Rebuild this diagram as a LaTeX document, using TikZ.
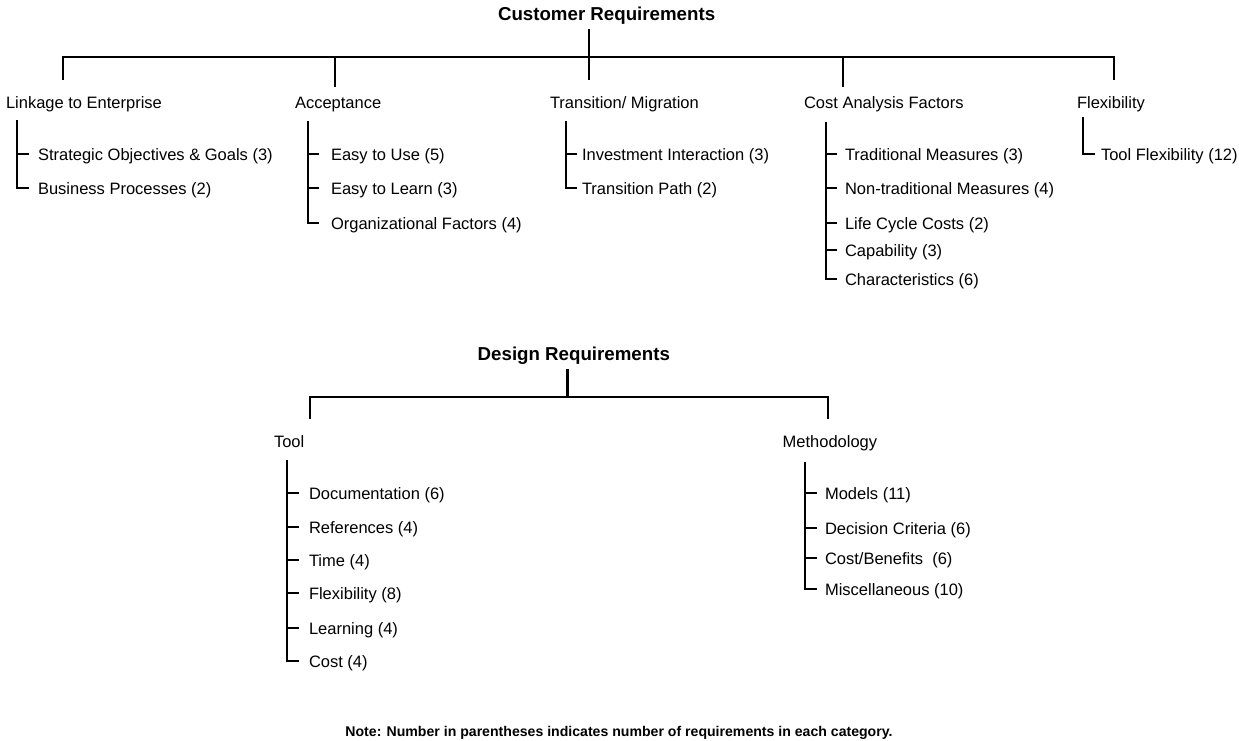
\documentclass[tikz,border=0pt]{standalone}
\usepackage{fontspec}
\setmainfont{Liberation Sans}
\begin{document}
\begin{tikzpicture}[x=1pt,y=-1pt,
  link/.style={line width=2pt},
  title/.style={font=\fontsize{18.7}{20}\selectfont\bfseries, inner sep=0pt, outer sep=0pt, anchor=base west},
  head/.style={font=\fontsize{16.5}{18}\selectfont, inner sep=0pt, outer sep=0pt, anchor=base west},
  item/.style={font=\fontsize{16.5}{18}\selectfont, inner ysep=0pt, inner xsep=#1, outer sep=0pt,
               text height=14pt, text depth=2pt, anchor=west},
  note/.style={font=\fontsize{14.1}{16}\selectfont\bfseries, inner sep=0pt, anchor=base}]
\useasboundingbox (0,0) rectangle (1239,740);

% ---------------- Customer requirements ----------------
\node[title] (cust) at (498,20.7) {Customer Requirements};
\coordinate (cust-stem) at (589,29);
\coordinate (bar) at (0,57);

\node[head] (lk) at (6,108.3)    {Linkage to Enterprise};
\node[head] (ac) at (295,108.3)  {Acceptance};
\node[head] (tm) at (550,108.3)  {Transition/ Migration};
\node[head] (ca) at (804,108.3)  {Cost Analysis Factors};
\node[head] (fx) at (1077,108.3) {Flexibility};

\coordinate (lk-drop) at (63,80);
\coordinate (ac-drop) at (335,87);
\coordinate (tm-drop) at (589,80);
\coordinate (ca-drop) at (843,87);
\coordinate (fx-drop) at (1114,80);

\draw[link] (lk-drop) |- (bar -| fx-drop) -- (fx-drop);
\draw[link] (ac-drop) -- (ac-drop |- bar);
\draw[link] (ca-drop) -- (ca-drop |- bar);
\draw[link] (cust-stem) -- (tm-drop);

% Linkage to Enterprise
\coordinate (lk-sp) at (17,120);
\node[item=9pt] (lk1) at (29,154) {Strategic Objectives \& Goals (3)};
\node[item=9pt] (lk2) at (29,188) {Business Processes (2)};
\draw[link] (lk-sp) |- (lk2.west);
\draw[link] (lk1.west -| lk-sp) -- (lk1.west);

% Acceptance
\coordinate (ac-sp) at (308,121);
\node[item=12pt] (ac1) at (319,154) {Easy to Use (5)};
\node[item=12pt] (ac2) at (319,188) {Easy to Learn (3)};
\node[item=12pt] (ac3) at (319,223) {Organizational Factors (4)};
\draw[link] (ac-sp) |- (ac3.west);
\foreach \n in {ac1,ac2} \draw[link] (\n.west -| ac-sp) -- (\n.west);

% Transition / Migration
\coordinate (tm-sp) at (566,121);
\node[item=5pt] (tm1) at (577,154) {Investment Interaction (3)};
\node[item=5pt] (tm2) at (577,188) {Transition Path (2)};
\draw[link] (tm-sp) |- (tm2.west);
\draw[link] (tm1.west -| tm-sp) -- (tm1.west);

% Cost Analysis Factors
\coordinate (ca-sp) at (826,122);
\node[item=8pt] (ca1) at (837,154) {Traditional Measures (3)};
\node[item=8pt] (ca2) at (837,188) {Non-traditional Measures (4)};
\node[item=8pt] (ca3) at (837,223) {Life Cycle Costs (2)};
\node[item=8pt] (ca4) at (837,250) {Capability (3)};
\node[item=8pt] (ca5) at (837,279) {Characteristics (6)};
\draw[link] (ca-sp) |- (ca5.west);
\foreach \n in {ca1,ca2,ca3,ca4} \draw[link] (\n.west -| ca-sp) -- (\n.west);

% Flexibility
\coordinate (fx-sp) at (1083,117);
\node[item=6pt] (fx1) at (1095,154) {Tool Flexibility (12)};
\draw[link] (fx-sp) |- (fx1.west);

% ---------------- Design requirements ----------------
\node[title] (des) at (477.7,360) {Design Requirements};
\coordinate (des-stem) at (567.5,369);
\coordinate (dbar) at (0,397);

\node[head] (tl) at (274,447)   {Tool};
\node[head] (md) at (782.7,447) {Methodology};

\coordinate (tl-drop) at (310,419);
\coordinate (md-drop) at (828,419);
\draw[link] (tl-drop) |- (dbar -| md-drop) -- (md-drop);
\draw[line width=3pt] (des-stem) -- (des-stem |- dbar);

% Tool
\coordinate (tl-sp) at (287,460);
\node[item=10pt] (tl1) at (299,493) {Documentation (6)};
\node[item=10pt] (tl2) at (299,527) {References (4)};
\node[item=10pt] (tl3) at (299,560) {Time (4)};
\node[item=10pt] (tl4) at (299,593) {Flexibility (8)};
\node[item=10pt] (tl5) at (299,628) {Learning (4)};
\node[item=10pt] (tl6) at (299,661) {Cost (4)};
\draw[link] (tl-sp) |- (tl6.west);
\foreach \n in {tl1,tl2,tl3,tl4,tl5} \draw[link] (\n.west -| tl-sp) -- (\n.west);

% Methodology
\coordinate (md-sp) at (805,462);
\node[item=8pt] (md1) at (817,493) {Models (11)};
\node[item=8pt] (md2) at (817,528) {Decision Criteria (6)};
\node[item=8pt] (md3) at (817,558) {Cost/Benefits\ \ (6)};
\node[item=8pt] (md4) at (817,589) {Miscellaneous (10)};
\draw[link] (md-sp) |- (md4.west);
\foreach \n in {md1,md2,md3} \draw[link] (\n.west -| md-sp) -- (\n.west);

% Footnote
\node[note] (nt) at (619,736) {Note: Number in parentheses indicates number of requirements in each category.};
\end{tikzpicture}
\end{document}
